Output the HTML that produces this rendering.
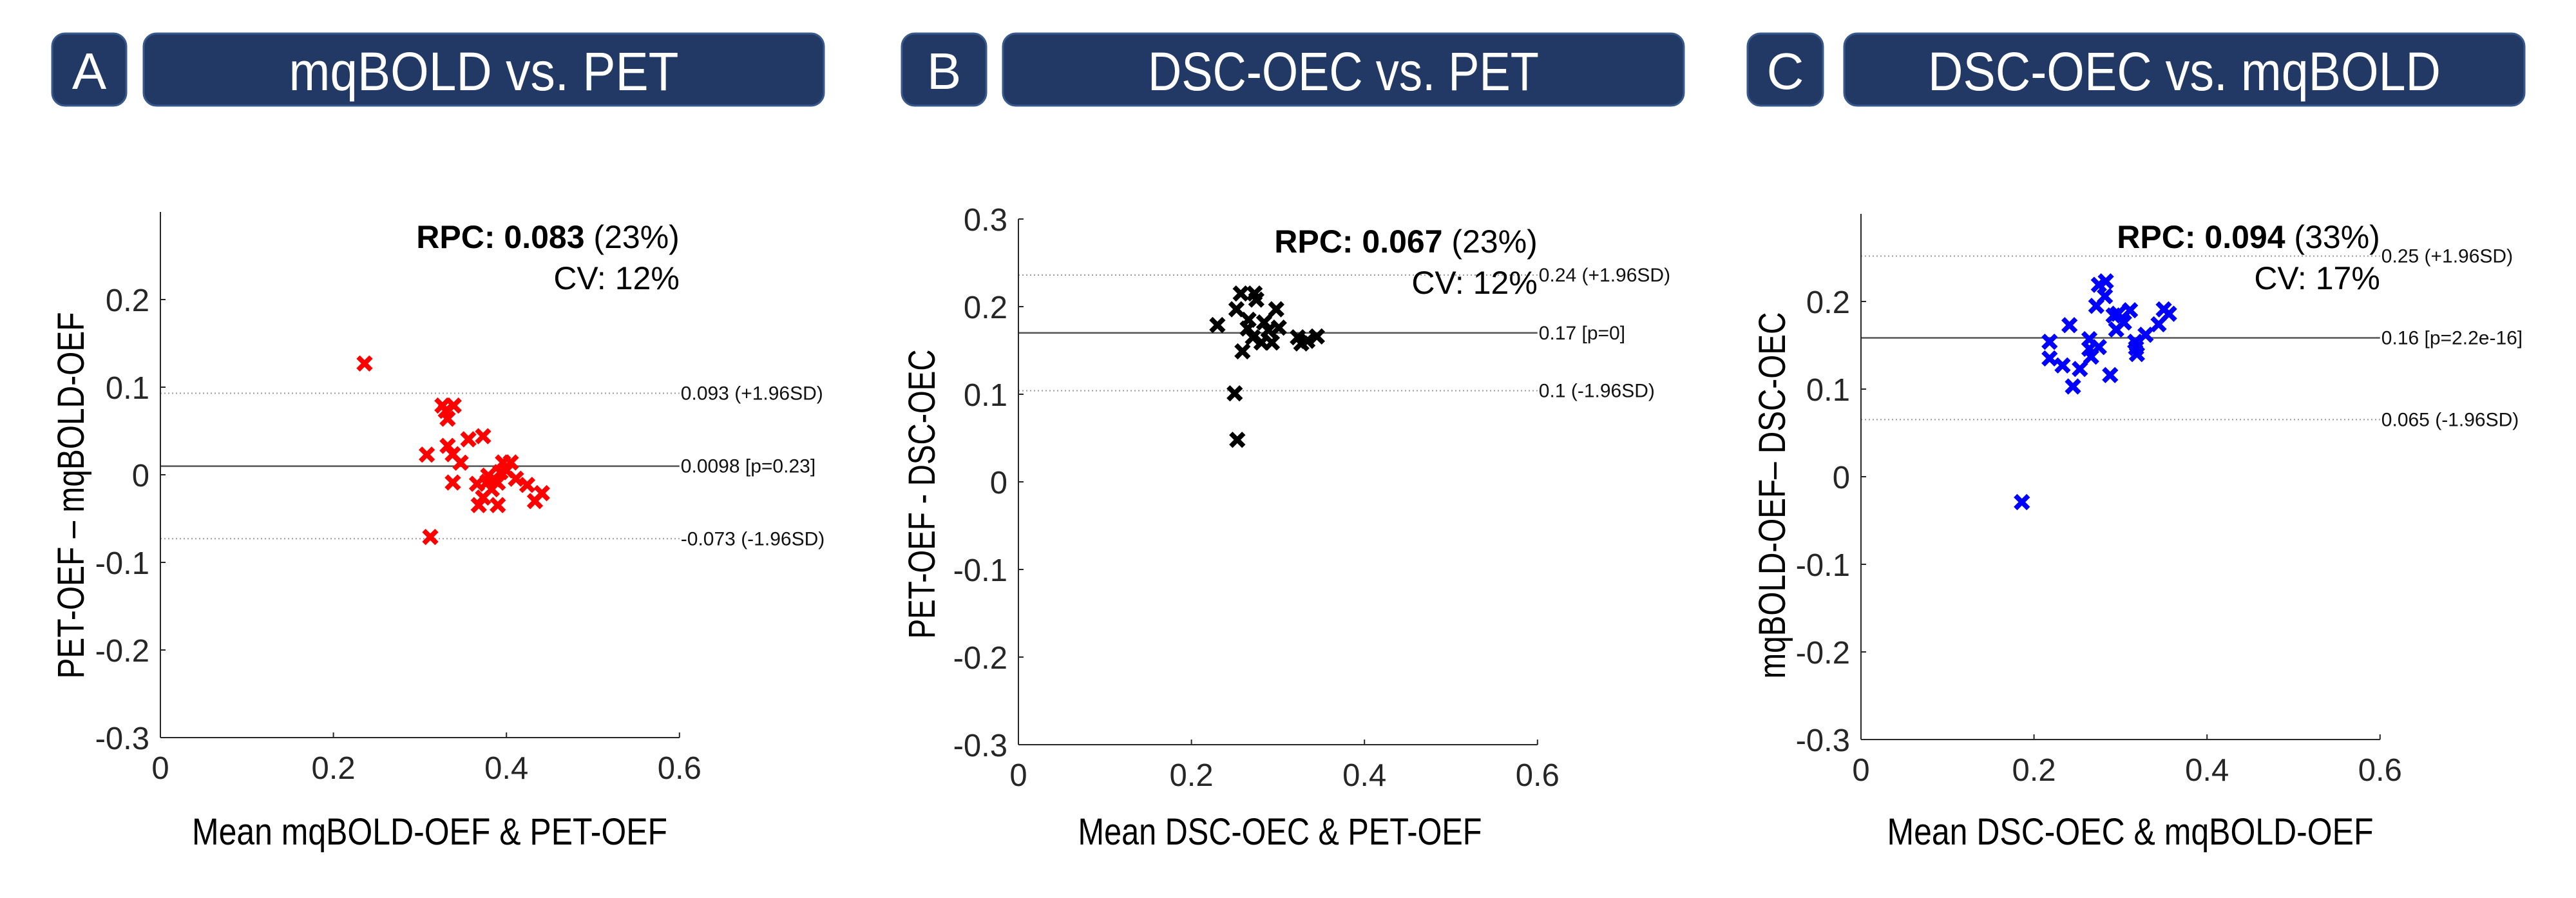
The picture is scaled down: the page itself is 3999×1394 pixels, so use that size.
<!DOCTYPE html>
<html><head><meta charset="utf-8"><style>
html,body{margin:0;padding:0;background:#fff;}
svg{display:block;font-family:"Liberation Sans",Arial,sans-serif;}
</style></head><body>
<svg id="fig" width="3999" height="1394" viewBox="0 0 3999 1394" xmlns="http://www.w3.org/2000/svg"></svg>
<script>
// ---- Data ----
const yTicksA = [0.2, 0.1, 0, -0.1, -0.2, -0.3];
const yTicksB = [0.3, 0.2, 0.1, 0, -0.1, -0.2, -0.3];
const yTicksC = [0.2, 0.1, 0, -0.1, -0.2, -0.3];
const xTicks = [0, 0.2, 0.4, 0.6];

const meanA = [0.236,0.326,0.339,0.330,0.332,0.356,0.373,0.332,0.308,0.338,0.347,0.338,0.366,0.378,0.386,0.396,0.405,0.393,0.390,0.373,0.368,0.390,0.411,0.424,0.441,0.433,0.312,0.383,0.379,0.400];
const diffA = [0.127,0.079,0.079,0.073,0.064,0.0405,0.044,0.033,0.023,0.0235,0.0138,-0.0088,-0.0103,-0.008,-0.0056,0.014,0.014,0.003,-0.009,-0.026,-0.0346,-0.0346,-0.0045,-0.0116,-0.021,-0.030,-0.071,-0.0165,-0.001,0.005];
const linesA = [0.093, 0.0098, -0.073];
const lineLabelsA = ["0.093 (+1.96SD)", "0.0098 [p=0.23]", "-0.073 (-1.96SD)"];

const meanB = [0.230,0.257,0.273,0.275,0.252,0.298,0.266,0.284,0.265,0.301,0.271,0.281,0.293,0.259,0.323,0.327,0.345,0.334,0.289,0.250,0.253];
const diffB = [0.179,0.215,0.215,0.208,0.197,0.197,0.185,0.182,0.175,0.176,0.165,0.159,0.159,0.149,0.165,0.158,0.166,0.161,0.173,0.101,0.048];
const linesB = [0.236, 0.170, 0.104];
const lineLabelsB = ["0.24 (+1.96SD)", "0.17 [p=0]", "0.1 (-1.96SD)"];

const meanC = [0.186,0.218,0.218,0.233,0.241,0.245,0.253,0.264,0.266,0.275,0.264,0.272,0.275,0.283,0.282,0.288,0.292,0.297,0.295,0.304,0.311,0.317,0.319,0.329,0.344,0.350,0.356,0.318];
const diffC = [-0.029,0.154,0.135,0.127,0.173,0.103,0.123,0.157,0.137,0.148,0.146,0.195,0.219,0.223,0.206,0.116,0.184,0.186,0.168,0.176,0.190,0.154,0.140,0.162,0.174,0.191,0.186,0.147];
const linesC = [0.2518, 0.1585, 0.0652];
const lineLabelsC = ["0.25 (+1.96SD)", "0.16 [p=2.2e-16]", "0.065 (-1.96SD)"];

const NS = "http://www.w3.org/2000/svg";
const svg = document.getElementById('fig');
function mk(tag, attrs, parent, text){
  const e = document.createElementNS(NS, tag);
  for (const k in attrs) e.setAttribute(k, attrs[k]);
  if (text !== undefined) e.textContent = text;
  (parent||svg).appendChild(e);
  return e;
}

const panels = [
  {id:'a', letter:'A', title:'mqBOLD vs. PET', lb:[81,196], tb:[223,1279], tLen:605,
   x0:249, y0:737, ticks:yTicksA, mean:meanA, diff:diffA, lines:linesA, labels:lineLabelsA, color:'#ff0000',
   rpc:'0.083', pct:'(23%)', cv:'CV: 12%', rpcY:385,
   xlab:'Mean mqBOLD-OEF & PET-OEF', xlabC:667, xlabL:738,
   ylab:'PET-OEF – mqBOLD-OEF', ylabX:130, ylabC:769, ylabL:569},
  {id:'b', letter:'B', title:'DSC-OEC vs. PET', lb:[1400,1531], tb:[1557,2614], tLen:607,
   x0:1581, y0:748, ticks:yTicksB, mean:meanB, diff:diffB, lines:linesB, labels:lineLabelsB, color:'#000000',
   rpc:'0.067', pct:'(23%)', cv:'CV: 12%', rpcY:392,
   xlab:'Mean DSC-OEC & PET-OEF', xlabC:1987, xlabL:627,
   ylab:'PET-OEF - DSC-OEC', ylabX:1451, ylabC:767, ylabL:449},
  {id:'c', letter:'C', title:'DSC-OEC vs. mqBOLD', lb:[2713,2830], tb:[2863,3919], tLen:796,
   x0:2889, y0:740, ticks:yTicksC, mean:meanC, diff:diffC, lines:linesC, labels:lineLabelsC, color:'#0000ff',
   rpc:'0.094', pct:'(33%)', cv:'CV: 17%', rpcY:385,
   xlab:'Mean DSC-OEC & mqBOLD-OEF', xlabC:3307, xlabL:755,
   ylab:'mqBOLD-OEF– DSC-OEC', ylabX:2771, ylabC:769, ylabL:569}
];

const XS = 1343, YS = 1360;

panels.forEach(p => {
  const g = mk('g', {});
  
  
  const xs = v => p.x0 + v * XS;
  const ys = v => p.y0 - v * YS;

  const lbox = mk('rect', {x:p.lb[0], y:52, width:p.lb[1]-p.lb[0], height:112, rx:20, fill:'#213964', stroke:'#38598c', 'stroke-width':3}, g);
  
  
  const lt = mk('text', {x:(p.lb[0]+p.lb[1])/2, y:138, 'text-anchor':'middle', 'font-size':80, fill:'#fff'}, g, p.letter);
  
  
  const tbox = mk('rect', {x:p.tb[0], y:52, width:p.tb[1]-p.tb[0], height:112, rx:20, fill:'#213964', stroke:'#38598c', 'stroke-width':3}, g);
  
  
  const tt = mk('text', {x:(p.tb[0]+p.tb[1])/2, y:140, 'text-anchor':'middle', 'font-size':84, fill:'#fff', textLength:p.tLen, lengthAdjust:'spacingAndGlyphs'}, g, p.title);
  
  

  p.lines.forEach((v, i) => {
    const ln = mk('line', {x1:xs(0), x2:xs(0.6), y1:ys(v), y2:ys(v),
      stroke: i===1 ? '#555' : '#999', 'stroke-width': i===1 ? 2.5 : 2,
      'stroke-dasharray': i===1 ? 'none' : '2,4'}, g);
    
    
    const lbl = mk('text', {x:xs(0.6)+2, y:ys(v)+10, 'font-size':30, fill:'#111'}, g, p.labels[i]);
    
    
  });

  const ya = mk('line', {x1:xs(0), x2:xs(0), y1:ys(0.3), y2:ys(-0.3), stroke:'#262626', 'stroke-width':2}, g);
  
  
  const xa = mk('line', {x1:xs(0), x2:xs(0.6), y1:ys(-0.3), y2:ys(-0.3), stroke:'#262626', 'stroke-width':2}, g);
  
  

  p.ticks.forEach(v => {
    const tk = mk('line', {x1:xs(0), x2:xs(0)+8, y1:ys(v), y2:ys(v), stroke:'#262626', 'stroke-width':2}, g);
    
    
    const tl = mk('text', {x:xs(0)-17, y:ys(v)+18, 'text-anchor':'end', 'font-size':49, fill:'#262626'}, g, String(v));
    
    
  });
  xTicks.forEach(v => {
    const tk = mk('line', {x1:xs(v), x2:xs(v), y1:ys(-0.3), y2:ys(-0.3)-8, stroke:'#262626', 'stroke-width':2}, g);
    
    
    const tl = mk('text', {x:xs(v), y:ys(-0.3)+64, 'text-anchor':'middle', 'font-size':49, fill:'#262626'}, g, String(v));
    
    
  });

  const xl = mk('text', {x:p.xlabC, y:1311, 'text-anchor':'middle', 'font-size':58, fill:'#000', textLength:p.xlabL, lengthAdjust:'spacingAndGlyphs'}, g, p.xlab);
  
  
  const yl = mk('text', {x:0, y:0, 'text-anchor':'middle', 'font-size':58, fill:'#000', textLength:p.ylabL, lengthAdjust:'spacingAndGlyphs',
    transform:'translate(' + p.ylabX + ',' + p.ylabC + ') rotate(-90)'}, g, p.ylab);
  
  

  const rt = mk('text', {x:xs(0.6), y:p.rpcY, 'text-anchor':'end', 'font-size':50, fill:'#000'}, g);
  
  
  mk('tspan', {'font-weight':'bold'}, rt, 'RPC: ' + p.rpc);
  mk('tspan', {}, rt, ' ' + p.pct);
  const cv = mk('text', {x:xs(0.6), y:p.rpcY+64, 'text-anchor':'end', 'font-size':50, fill:'#000'}, g, p.cv);
  
  

  const mg = mk('g', {stroke:p.color, 'stroke-width':7.5}, g);
  
  
  p.mean.forEach((m, i) => {
    const cx = xs(m), cy = ys(p.diff[i]), r = 10;
    const pt = mk('path', {d:'M'+(cx-r)+' '+(cy-r)+'L'+(cx+r)+' '+(cy+r)+'M'+(cx+r)+' '+(cy-r)+'L'+(cx-r)+' '+(cy+r), fill:'none'}, mg);
    
    
  });
});
</script>
</body></html>
